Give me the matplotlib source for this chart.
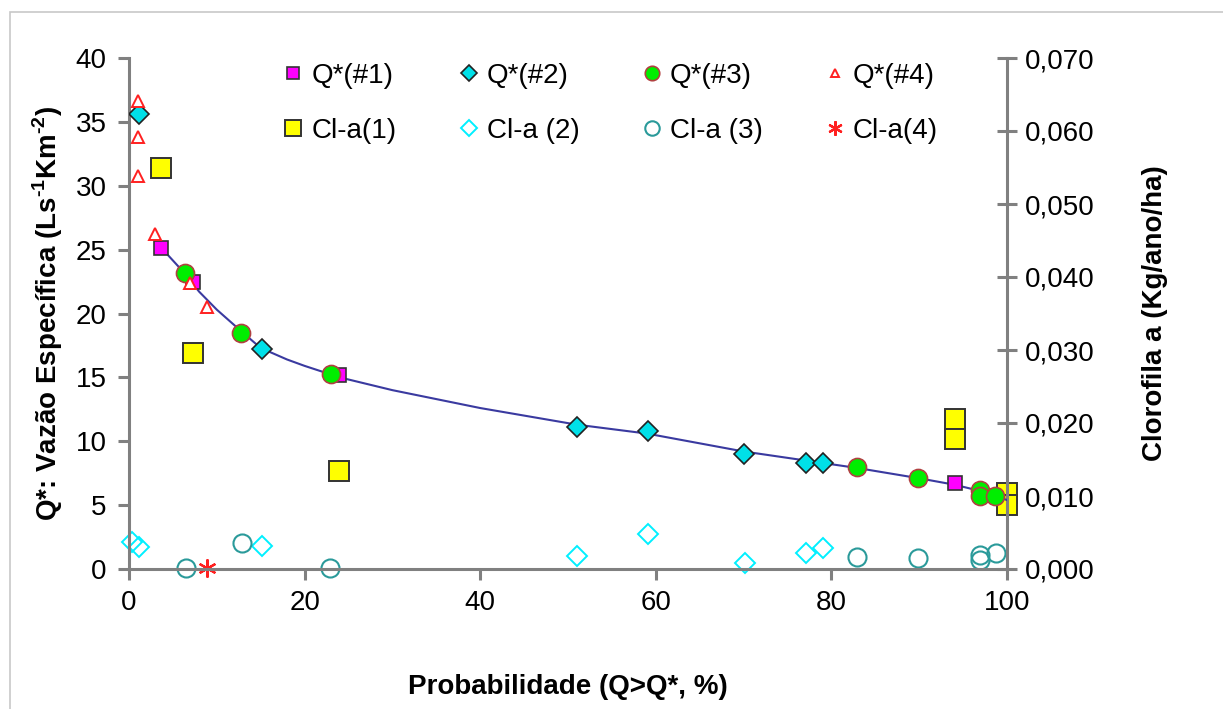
import matplotlib.pyplot as plt
from matplotlib.patches import Rectangle

plt.rcParams['font.family'] = ['Liberation Sans', 'DejaVu Sans']
plt.rcParams['mathtext.fontset'] = 'custom'
plt.rcParams['mathtext.rm'] = 'Liberation Sans:bold'
plt.rcParams['mathtext.bf'] = 'Liberation Sans:bold'

# Q* (vazão específica, eixo esquerdo)
q1_x = [3.6, 7.3, 23.9, 94.1]
q1_y = [25.1, 22.5, 15.2, 6.7]
q2_x = [1.1, 15.1, 51.0, 59.1, 70.0, 77.1, 79.0]
q2_y = [35.6, 17.2, 11.1, 10.8, 9.0, 8.3, 8.3]
q3_x = [6.4, 12.8, 23.0, 82.9, 89.9, 96.9, 96.9, 98.6]
q3_y = [23.2, 18.5, 15.3, 8.0, 7.1, 6.2, 5.7, 5.7]
q4_x = [1.0, 1.0, 1.0, 3.0, 6.9, 8.9]
q4_y = [36.6, 33.8, 30.8, 26.2, 22.4, 20.5]

# linha de tendência
fit_x = [4.4, 6.0, 8.0, 10.0, 12.8, 15.0, 18.0, 20.0, 24.0, 30.0, 40.0, 51.0,
         59.0, 70.0, 77.0, 83.0, 90.0, 94.0, 97.0, 100.0]
fit_y = [24.6, 23.4, 21.7, 20.3, 18.6, 17.3, 16.4, 15.9, 15.0, 14.0, 12.6, 11.3,
         10.6, 9.2, 8.5, 7.9, 7.1, 6.6, 6.1, 5.4]

# Clorofila a (eixo direito)
c1_x = [3.6, 7.3, 23.9, 94.1, 94.1, 100.0, 100.0]
c1_y = [0.0549, 0.0296, 0.0134, 0.0206, 0.0178, 0.0104, 0.0088]
c2_x = [0.3, 1.1, 15.1, 51.0, 59.1, 70.2, 77.1, 79.0]
c2_y = [0.0037, 0.0030, 0.0032, 0.0018, 0.0048, 0.0008, 0.0022, 0.0029]
c3_x = [6.5, 12.9, 22.9, 82.9, 89.9, 96.9, 96.9, 98.8]
c3_y = [0.0001, 0.0036, 0.0001, 0.0017, 0.0015, 0.0019, 0.0012, 0.0022]
c4_x = [8.9]
c4_y = [0.0001]

yticks_l = [0, 5, 10, 15, 20, 25, 30, 35, 40]
yticks_r = [0, 0.01, 0.02, 0.03, 0.04, 0.05, 0.06, 0.07]
yticklabels_r = ['0,000', '0,010', '0,020', '0,030', '0,040', '0,050', '0,060', '0,070']
xticks = [0, 20, 40, 60, 80, 100]

fig = plt.figure(figsize=(12.23, 7.09), dpi=100)
fig.patches.append(Rectangle((10/1223, -0.1), 1.2, 1.1 - 12/709, transform=fig.transFigure,
                             fill=False, edgecolor='#c8c8c8', lw=1.2))
ax = fig.add_axes([129/1223, 1 - 569/709, 878/1223, 511/709])
ax2 = ax.twinx()
ax.set_zorder(2)
ax.patch.set_visible(False)

spine_c = '#808080'
fs = 20

ax.plot(fit_x, fit_y, color='#3a3aa0', lw=1.5, zorder=1)
h_q1, = ax.plot(q1_x, q1_y, 's', ms=10, mfc='#ff00ff', mec='#333333', mew=1.2, zorder=3)
h_q2, = ax.plot(q2_x, q2_y, 'D', ms=10, mfc='#00e0e8', mec='#222222', mew=1.2, zorder=3)
h_q3, = ax.plot(q3_x, q3_y, 'o', ms=13, mfc='#00ee00', mec='#b04040', mew=1.2, zorder=3)
h_q4, = ax.plot(q4_x, q4_y, '^', ms=8, mfc='white', mec='#ff2020', mew=1.4, zorder=4)

h_c1, = ax2.plot(c1_x, c1_y, 's', ms=14, mfc='#ffff00', mec='#333333', mew=1.4, clip_on=False)
h_c2, = ax2.plot(c2_x, c2_y, 'D', ms=10, mfc='none', mec='#00f0ff', mew=1.4, clip_on=False)
h_c3, = ax2.plot(c3_x, c3_y, 'o', ms=13, mfc='none', mec='#2a9a9a', mew=1.5, clip_on=False)
h_c4, = ax2.plot(c4_x, c4_y, marker=(6, 2, 0), ls='none', ms=13, mec='#ff2020', mew=1.6,
                 clip_on=False)

ax.set_xlim(0, 100)
ax.set_ylim(0, 40)
ax2.set_ylim(0, 0.07)
ax.set_xticks(xticks)
ax.set_yticks(yticks_l)
ax2.set_yticks(yticks_r)
ax2.set_yticklabels(yticklabels_r)

for a in (ax, ax2):
    a.spines['top'].set_visible(False)
    for s in a.spines.values():
        s.set_color(spine_c)
        s.set_linewidth(2.2)
ax.spines['right'].set_visible(False)
ax2.spines['left'].set_visible(False)
ax2.spines['bottom'].set_visible(False)

ax.tick_params(axis='both', colors=spine_c, labelcolor='black', labelsize=fs,
               length=8, width=2.2, direction='out')
ax.tick_params(axis='x', pad=7)
ax.tick_params(axis='y', pad=8)
ax2.tick_params(axis='y', colors=spine_c, labelcolor='black', labelsize=fs,
                length=14, width=2.2, direction='inout', pad=6)

ax.set_xlabel('Probabilidade (Q>Q*, %)', fontsize=fs, fontweight='bold', labelpad=42)
ax.set_ylabel('Q*: Vazão Específica (Ls$^{\\text{-1}}$Km$^{\\text{-2}}$)', fontsize=fs,
              fontweight='bold', labelpad=8)
ax2.set_ylabel('Clorofila a (Kg/ano/ha)', fontsize=fs, fontweight='bold', labelpad=34)

handles = [h_q1, h_c1, h_q2, h_c2, h_q3, h_c3, h_q4, h_c4]
labels = ['Q*(#1)', 'Cl-a(1)', 'Q*(#2)', 'Cl-a (2)', 'Q*(#3)', 'Cl-a (3)', 'Q*(#4)', 'Cl-a(4)']
ax.legend(handles, labels, ncol=4, frameon=False, fontsize=fs, loc='upper left',
          bbox_to_anchor=(0.146, 1.04), markerscale=0.8, handlelength=0.8,
          handletextpad=0.25, columnspacing=2.2, labelspacing=1.05)

fig.savefig('out.png', dpi=100)
